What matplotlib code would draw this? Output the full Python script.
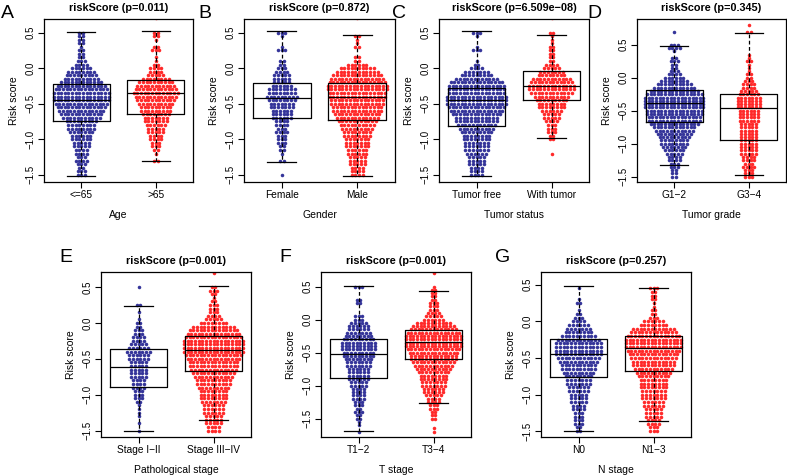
import numpy as np
import matplotlib
matplotlib.use('Agg')
import matplotlib.pyplot as plt

plt.rcParams['font.family'] = ['Liberation Sans', 'DejaVu Sans']

# y levels of the binned swarm rows (step 0.05, from -1.75 to 0.85)
levels = np.round(np.arange(-1.75, 0.851, 0.05), 2)

# counts of points per level (bottom -> top)
age_le65 = [0, 0, 0, 0, 0, 3, 3, 2, 3, 4,
            3, 4, 4, 5, 5, 6, 6, 7, 8, 8,
            9, 11, 12, 13, 14, 15, 16, 16, 16, 15,
            14, 12, 10, 9, 8, 6, 4, 3, 2, 2,
            2, 1, 2, 2, 2, 2, 0, 0, 0, 0,
            0, 0, 0]
age_gt65 = [0, 0, 0, 0, 0, 0, 0, 0, 0, 2,
            0, 1, 2, 3, 3, 4, 4, 5, 5, 6,
            7, 7, 8, 9, 9, 10, 11, 12, 13, 12,
            11, 10, 8, 5, 4, 4, 2, 1, 1, 0,
            3, 2, 0, 1, 2, 2, 0, 0, 0, 1,
            0, 0, 0]
female = [0, 0, 0, 0, 0, 1, 0, 0, 0, 2,
          0, 1, 2, 2, 3, 3, 3, 4, 3, 4,
          4, 6, 6, 6, 7, 7, 8, 9, 8, 8,
          6, 5, 5, 5, 4, 3, 2, 2, 0, 0,
          3, 1, 0, 0, 1, 3, 0, 0, 0, 0,
          0, 0, 0]
male = [0, 0, 0, 0, 0, 4, 4, 4, 5, 5,
        5, 6, 6, 7, 7, 7, 8, 8, 9, 10,
        11, 12, 13, 14, 14, 15, 15, 16, 16, 17,
        17, 16, 15, 14, 12, 10, 6, 2, 2, 0,
        0, 2, 1, 1, 2, 0, 0, 0, 0, 1,
        0, 0, 0]
tumor_free = [0, 0, 0, 0, 0, 4, 4, 4, 5, 5,
              5, 6, 7, 7, 7, 8, 8, 9, 10, 11,
              12, 12, 14, 15, 16, 17, 17, 17, 16, 16,
              16, 15, 12, 9, 7, 4, 2, 1, 0, 0,
              3, 1, 0, 0, 1, 3, 0, 0, 0, 0,
              0, 0, 0]
with_tumor = [0, 0, 0, 0, 0, 0, 0, 0, 0, 0,
              0, 1, 0, 0, 0, 2, 2, 3, 3, 3,
              4, 5, 5, 6, 8, 8, 9, 10, 12, 13,
              13, 12, 11, 8, 7, 5, 4, 2, 2, 2,
              2, 2, 1, 1, 1, 2, 0, 0, 0, 1,
              0, 0, 0]
g12 = [0, 0, 0, 0, 0, 2, 2, 2, 3, 3,
       4, 4, 5, 6, 7, 8, 8, 9, 10, 11,
       12, 14, 15, 15, 16, 16, 17, 17, 17, 17,
       16, 14, 12, 10, 8, 6, 4, 3, 2, 2,
       3, 2, 0, 1, 4, 3, 0, 0, 0, 1,
       0, 0, 0]
g34 = [0, 0, 0, 0, 0, 3, 3, 3, 4, 3,
       4, 4, 5, 5, 5, 5, 5, 5, 5, 5,
       5, 5, 6, 6, 6, 6, 7, 7, 7, 7,
       6, 5, 4, 4, 3, 2, 2, 1, 1, 1,
       2, 1, 1, 0, 0, 0, 0, 0, 0, 2,
       0, 1, 0]
stage12 = [0, 0, 0, 0, 0, 1, 0, 1, 0, 1,
           1, 1, 1, 2, 3, 3, 3, 4, 4, 4,
           5, 5, 5, 5, 5, 6, 6, 7, 6, 5,
           4, 4, 3, 3, 2, 2, 1, 0, 1, 0,
           2, 0, 0, 0, 0, 1, 0, 0, 0, 0,
           0, 0, 0]
stage34 = [0, 0, 0, 0, 0, 4, 4, 5, 5, 5,
           6, 6, 6, 7, 8, 8, 8, 9, 10, 10,
           11, 12, 13, 14, 14, 15, 16, 17, 17, 17,
           17, 16, 15, 14, 12, 8, 5, 4, 3, 3,
           3, 2, 1, 2, 3, 2, 0, 0, 0, 1,
           0, 0, 0]
t12 = [0, 1, 0, 1, 1, 2, 2, 3, 2, 3,
       3, 4, 4, 4, 4, 5, 5, 6, 6, 6,
       6, 7, 7, 8, 9, 9, 10, 10, 10, 9,
       8, 7, 6, 6, 5, 3, 3, 0, 0, 0,
       2, 2, 0, 0, 0, 3, 0, 0, 0, 0,
       0, 0, 0]
t34 = [0, 1, 1, 0, 0, 2, 2, 2, 3, 3,
       4, 4, 5, 6, 6, 7, 7, 8, 8, 9,
       10, 11, 12, 13, 13, 14, 15, 16, 16, 16,
       16, 15, 13, 12, 10, 6, 5, 4, 3, 3,
       3, 2, 2, 2, 2, 1, 0, 0, 0, 1,
       0, 0, 0]
n0 = [0, 0, 0, 0, 0, 2, 2, 3, 3, 3,
      3, 4, 4, 5, 5, 5, 6, 6, 7, 7,
      8, 9, 10, 10, 11, 12, 13, 13, 13, 13,
      12, 10, 8, 7, 6, 4, 3, 2, 1, 0,
      2, 1, 0, 0, 1, 0, 0, 0, 0, 0,
      0, 0, 0]
n13 = [0, 0, 0, 0, 0, 3, 3, 4, 4, 5,
       5, 5, 6, 6, 7, 7, 7, 8, 8, 8,
       9, 10, 11, 12, 12, 13, 14, 15, 16, 16,
       16, 15, 13, 12, 8, 6, 3, 2, 2, 1,
       1, 2, 2, 2, 3, 0, 0, 0, 0, 0,
       0, 0, 0]

# box stats: whisker low, Q1, median, Q3, whisker high
box_age = [[-1.51, -0.745, -0.45, -0.23, 0.51], [-1.30, -0.65, -0.355, -0.165, 0.52]]
box_gender = [[-1.32, -0.70, -0.425, -0.21, 0.52], [-1.51, -0.735, -0.41, -0.215, 0.46]]
box_tumor = [[-1.51, -0.815, -0.455, -0.275, 0.52], [-0.98, -0.455, -0.255, -0.047, 0.46]]
box_grade = [[-1.32, -0.67, -0.385, -0.19, 0.48], [-1.48, -0.95, -0.465, -0.25, 0.68]]
box_stage = [[-1.50, -0.895, -0.61, -0.36, 0.235], [-1.355, -0.67, -0.375, -0.185, 0.52]]
box_t = [[-1.69, -0.89, -0.52, -0.295, 0.51], [-1.27, -0.60, -0.345, -0.165, 0.43]]
box_n = [[-1.50, -0.755, -0.445, -0.24, 0.48], [-1.36, -0.675, -0.36, -0.20, 0.455]]

panels = [
    ('A', 'riskScore (p=0.011)', 'Age', ['<=65', '>65'], [age_le65, age_gt65], box_age),
    ('B', 'riskScore (p=0.872)', 'Gender', ['Female', 'Male'], [female, male], box_gender),
    ('C', 'riskScore (p=6.509e\u221208)', 'Tumor status', ['Tumor free', 'With tumor'],
     [tumor_free, with_tumor], box_tumor),
    ('D', 'riskScore (p=0.345)', 'Tumor grade', ['G1\u22122', 'G3\u22124'], [g12, g34], box_grade),
    ('E', 'riskScore (p=0.001)', 'Pathological stage', ['Stage I\u2212II', 'Stage III\u2212IV'],
     [stage12, stage34], box_stage),
    ('F', 'riskScore (p=0.001)', 'T stage', ['T1\u22122', 'T3\u22124'], [t12, t34], box_t),
    ('G', 'riskScore (p=0.257)', 'N stage', ['N0', 'N1\u22123'], [n0, n13], box_n),
]

W, H = 787, 475
# axes boxes in pixels: left, top, right, bottom
boxes_px = [(44, 19, 193, 182), (244, 19, 395, 182), (439, 19, 589, 182), (637, 19, 786, 182),
            (101, 272, 251, 437), (321, 272, 471, 437), (541, 272, 691, 437)]
ylims = [(-1.60, 0.69), (-1.60, 0.69), (-1.60, 0.69), (-1.58, 0.89),
         (-1.59, 0.71), (-1.78, 0.72), (-1.58, 0.675)]
letter_px = [(7, 14), (205, 14), (399, 14), (594, 14), (66, 258), (285, 258), (503, 258)]

colors = ['#35359a', '#ff2a2a']
dx = 0.049

fig = plt.figure(figsize=(W / 100, H / 100), dpi=100)

for k, (letter, title, xlab, ticks, groups, bstats) in enumerate(panels):
    l, t, r, b = boxes_px[k]
    ax = fig.add_axes([l / W, 1 - b / H, (r - l) / W, (b - t) / H])

    for g, counts in enumerate(groups):
        xs, ys = [], []
        for i, (lev, n) in enumerate(zip(levels, counts)):
            if n == 0:
                continue
            off = (np.arange(n) - (n - 1) / 2.0) * dx
            xs.extend(g + 1 + off)
            ys.extend([lev] * n)
        ax.scatter(xs, ys, s=6.5, color=colors[g], linewidths=0, zorder=2)

    stats = []
    for s in bstats:
        stats.append(dict(whislo=s[0], q1=s[1], med=s[2], q3=s[3], whishi=s[4], fliers=[]))
    ax.bxp(stats, positions=[1, 2], widths=0.77, showfliers=False, patch_artist=False,
           boxprops=dict(color='black', linewidth=0.9),
           medianprops=dict(color='black', linewidth=0.9),
           whiskerprops=dict(color='black', linewidth=0.9, linestyle=(0, (3, 2))),
           capprops=dict(color='black', linewidth=0.9), capwidths=0.38, zorder=3)

    ax.set_xlim(0.5, 2.5)
    ax.set_ylim(*ylims[k])
    ax.set_xticks([1, 2])
    ax.set_xticklabels(ticks, fontsize=7.3)
    ax.set_yticks([-1.5, -1.0, -0.5, 0.0, 0.5])
    ax.set_yticklabels(['\u22121.5', '\u22121.0', '\u22120.5', '0.0', '0.5'],
                       rotation=90, va='center', fontsize=7)
    ax.tick_params(direction='out', length=4, width=0.8, pad=2)
    for sp in ax.spines.values():
        sp.set_linewidth(0.9)
    ax.set_ylabel('Risk score', fontsize=7.5, labelpad=5)
    ax.set_xlabel(xlab, fontsize=7.5, labelpad=7)
    ax.set_title(title, fontsize=7.8, fontweight='bold', pad=6)

    lx, ly = letter_px[k]
    fig.text(lx / W, 1 - ly / H, letter, fontsize=14, ha='center', va='center')

fig.savefig('out.png', dpi=100)
